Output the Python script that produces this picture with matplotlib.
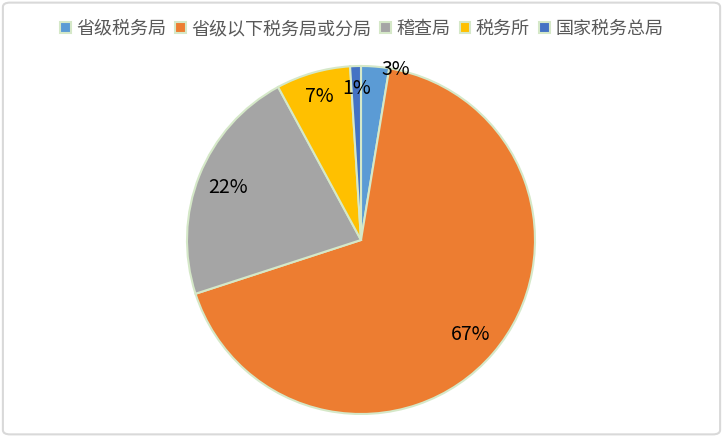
import matplotlib.pyplot as plt
import numpy as np
from matplotlib.patches import FancyBboxPatch

plt.rcParams['font.family'] = ['Noto Sans CJK SC', 'DejaVu Sans']

labels = ['省级税务局', '省级以下税务局或分局', '稽查局', '税务所', '国家税务总局']
values = [2.6, 67.4, 22.1, 6.9, 1.0]
pct_labels = ['3%', '67%', '22%', '7%', '1%']
colors = ['#5B9BD5', '#ED7D31', '#A5A5A5', '#FFC000', '#4472C4']
edge = '#D5E8C8'

W, H = 723, 437
fig = plt.figure(figsize=(W / 100, H / 100), dpi=100)

# outer frame, behind everything
frame = FancyBboxPatch((0.004, 0.006), 0.992, 0.988, boxstyle='round,pad=0,rounding_size=0.01',
                       transform=fig.transFigure, facecolor='none', edgecolor='#D9D9D9',
                       lw=1.5, zorder=-1)
fig.patches.append(frame)

cx, cy, r = 361, 240, 174
ax = fig.add_axes([(cx - r) / W, (H - cy - r) / H, 2 * r / W, 2 * r / H])
wedges, _ = ax.pie(values, colors=colors, startangle=90, counterclock=False,
                   wedgeprops=dict(edgecolor=edge, linewidth=1.5))
ax.set_xlim(-1, 1)
ax.set_ylim(-1, 1)
ax.set_aspect('equal')
ax.axis('off')

# label radii, like Excel's best fit
lab_r = [1.0, 0.83, 0.82, 0.86, 0.87]
lab_shift = [7, 0, 0, 0, 0]  # degrees, clockwise
for w, txt, rr, sh in zip(wedges, pct_labels, lab_r, lab_shift):
    ang = np.deg2rad((w.theta1 + w.theta2) / 2 - sh)
    ax.text(rr * np.cos(ang), rr * np.sin(ang), txt, ha='center', va='center',
            fontsize=14, color='black')

leg = fig.legend(wedges, labels, loc='center', bbox_to_anchor=(0.5, 1 - 29 / H), ncol=5,
                 frameon=False, fontsize=13, handlelength=0.6, handleheight=0.6,
                 handletextpad=0.3, columnspacing=0.5, labelcolor='#595959')
fig.savefig('out.png', dpi=100)
